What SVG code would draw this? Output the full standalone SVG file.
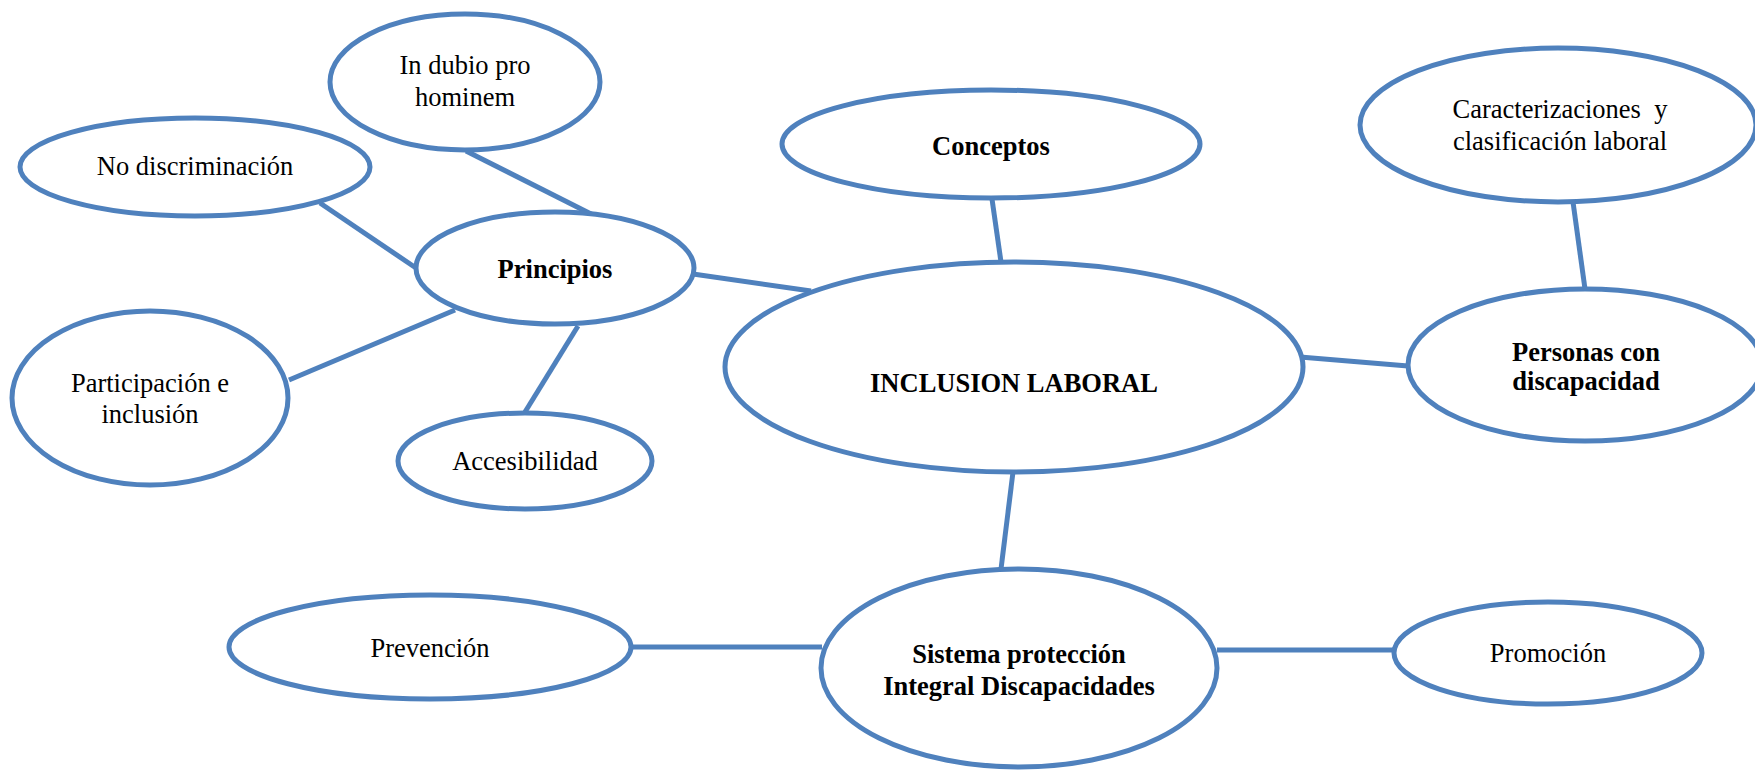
<svg xmlns="http://www.w3.org/2000/svg" width="1755" height="770" viewBox="0 0 1755 770">
<style>
.n{fill:#ffffff;stroke:#4F81BD;stroke-width:5}
.c line{stroke:#4F81BD;stroke-width:5;fill:none}
text{font-family:"Liberation Serif","Times New Roman",serif;font-size:26.5px;fill:#000;text-anchor:middle}
.b{font-weight:bold}
</style>
<rect width="1755" height="770" fill="#ffffff"/>
<g id="connectors" class="c">
<line x1="466" y1="151" x2="599" y2="218"/>
<line x1="320" y1="203" x2="416" y2="268"/>
<line x1="289" y1="380" x2="455" y2="310"/>
<line x1="525" y1="412" x2="578" y2="326"/>
<line x1="693" y1="274" x2="811" y2="291"/>
<line x1="992" y1="199" x2="1001" y2="262"/>
<line x1="1573" y1="202" x2="1585" y2="289"/>
<line x1="1300" y1="357" x2="1408" y2="366"/>
<line x1="1013" y1="472" x2="1001" y2="569"/>
<line x1="631" y1="647" x2="822" y2="647"/>
<line x1="1217" y1="650" x2="1394" y2="650"/>
</g>
<g id="dubio"><ellipse class="n" cx="465" cy="82" rx="135" ry="68"/><text x="465" y="74">In dubio pro</text><text x="465" y="106">hominem</text></g>
<g id="nodisc"><ellipse class="n" cx="195" cy="167" rx="175" ry="49"/><text x="195" y="175">No discriminación</text></g>
<g id="principios"><ellipse class="n" cx="555" cy="268" rx="139" ry="56"/><text class="b" x="555" y="278">Principios</text></g>
<g id="participacion"><ellipse class="n" cx="150" cy="398" rx="138" ry="87"/><text x="150" y="392">Participación e</text><text x="150" y="423">inclusión</text></g>
<g id="accesibilidad"><ellipse class="n" cx="525" cy="461" rx="127" ry="48"/><text x="525" y="470">Accesibilidad</text></g>
<g id="conceptos"><ellipse class="n" cx="991" cy="144" rx="209" ry="54"/><text class="b" x="991" y="155">Conceptos</text></g>
<g id="inclusion"><ellipse class="n" cx="1014" cy="367" rx="289" ry="105"/><text class="b" x="1014" y="392">INCLUSION LABORAL</text></g>
<g id="caracterizaciones"><ellipse class="n" cx="1558" cy="125" rx="198" ry="77"/><text x="1560" y="118" xml:space="preserve">Caracterizaciones  y</text><text x="1560" y="150">clasificación laboral</text></g>
<g id="personas"><ellipse class="n" cx="1585" cy="365" rx="177" ry="76"/><text class="b" x="1586" y="361">Personas con</text><text class="b" x="1586" y="390">discapacidad</text></g>
<g id="prevencion"><ellipse class="n" cx="430" cy="647" rx="201" ry="52"/><text x="430" y="657">Prevención</text></g>
<g id="sistema"><ellipse class="n" cx="1019" cy="668" rx="198" ry="99"/><text class="b" x="1019" y="663">Sistema protección</text><text class="b" x="1019" y="695">Integral Discapacidades</text></g>
<g id="promocion"><ellipse class="n" cx="1548" cy="653" rx="154" ry="51"/><text x="1548" y="662">Promoción</text></g>
</svg>
